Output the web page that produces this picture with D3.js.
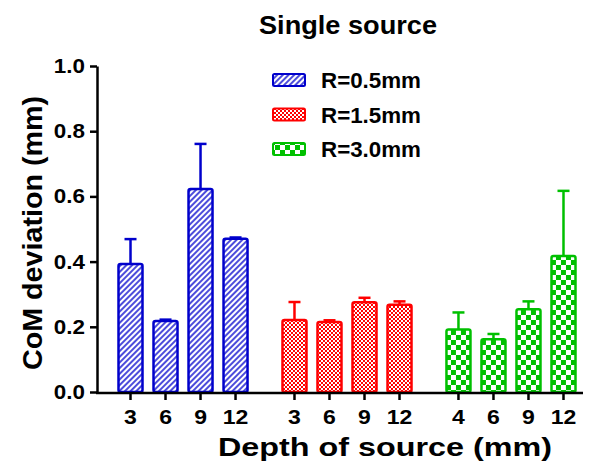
<!DOCTYPE html>
<html>
<head>
<meta charset="utf-8">
<script src="https://cdn.jsdelivr.net/npm/d3@7"></script>
<style>
  body { margin: 0; background: #fff; }
  text { font-family: "Liberation Sans", Arial, sans-serif; font-weight: bold; fill: #000; }
</style>
</head>
<body>
<svg width="595" height="464"></svg>
<script>
// data
var groups = ["R=0.5mm", "R=1.5mm", "R=3.0mm"];
var depthLabels = [["3", "6", "9", "12"], ["3", "6", "9", "12"], ["4", "6", "9", "12"]];
var means = [[0.393, 0.218, 0.623, 0.470], [0.221, 0.215, 0.275, 0.268], [0.192, 0.162, 0.254, 0.417]];
var errors = [[0.076, 0.004, 0.138, 0.004], [0.055, 0.005, 0.014, 0.010], [0.052, 0.016, 0.024, 0.200]];
var yTicks = [0, 0.2, 0.4, 0.6, 0.8, 1.0];

var colors = ["#0000cc", "#ff0000", "#00c000"];
var fills = ["url(#hatch)", "url(#fineCheck)", "url(#bigCheck)"];

var svg = d3.select("svg");

// patterns
var defs = svg.append("defs");
var hatch = defs.append("pattern")
  .attr("id", "hatch")
  .attr("patternUnits", "userSpaceOnUse")
  .attr("width", 4).attr("height", 4)
  .attr("patternTransform", "rotate(45)");
hatch.append("rect").attr("width", 4).attr("height", 4).attr("fill", "#fff");
hatch.append("line").attr("x1", 1).attr("x2", 1).attr("y1", 0).attr("y2", 4)
  .attr("stroke", colors[0]).attr("stroke-width", 1.4);

var fine = defs.append("pattern")
  .attr("id", "fineCheck")
  .attr("patternUnits", "userSpaceOnUse")
  .attr("width", 4).attr("height", 4);
fine.append("rect").attr("width", 4).attr("height", 4).attr("fill", colors[1]);
fine.append("rect").attr("width", 2).attr("height", 2).attr("fill", "#fff");
fine.append("rect").attr("x", 2).attr("y", 2).attr("width", 2).attr("height", 2).attr("fill", "#fff");

var big = defs.append("pattern")
  .attr("id", "bigCheck")
  .attr("patternUnits", "userSpaceOnUse")
  .attr("width", 10).attr("height", 10);
big.append("rect").attr("width", 10).attr("height", 10).attr("fill", "#fff");
big.append("rect").attr("width", 5).attr("height", 5).attr("fill", colors[2]);
big.append("rect").attr("x", 5).attr("y", 5).attr("width", 5).attr("height", 5).attr("fill", colors[2]);

// scales
var y = d3.scaleLinear().domain([0, 1]).range([392, 66]);
var x0 = d3.scaleBand().domain(d3.range(groups.length)).range([113, 581]).paddingInner(0.146);
var x1 = d3.scaleBand().domain(d3.range(4)).range([0, x0.bandwidth()])
  .paddingInner(11 / 35).paddingOuter(5.5 / 35);

function stretch(sel, k) {
  sel.each(function () {
    var w = this.getComputedTextLength();
    d3.select(this).attr("textLength", w * k).attr("lengthAdjust", "spacingAndGlyphs");
  });
}

// bars
groups.forEach(function (g, gi) {
  var gg = svg.append("g")
    .attr("class", "group")
    .attr("transform", "translate(" + x0(gi) + ",0)");

  var rows = means[gi].map(function (m, i) { return {i: i, m: m, e: errors[gi][i]}; });

  gg.selectAll("line.err-v").data(rows).enter().append("line")
    .attr("class", "err-v")
    .attr("x1", function (d) { return x1(d.i) + x1.bandwidth() / 2; })
    .attr("x2", function (d) { return x1(d.i) + x1.bandwidth() / 2; })
    .attr("y1", function (d) { return y(d.m); })
    .attr("y2", function (d) { return y(d.m + d.e); })
    .attr("stroke", colors[gi]).attr("stroke-width", 2.5);

  gg.selectAll("line.err-cap").data(rows).enter().append("line")
    .attr("class", "err-cap")
    .attr("x1", function (d) { return x1(d.i) + x1.bandwidth() / 2 - 6; })
    .attr("x2", function (d) { return x1(d.i) + x1.bandwidth() / 2 + 6; })
    .attr("y1", function (d) { return y(d.m + d.e); })
    .attr("y2", function (d) { return y(d.m + d.e); })
    .attr("stroke", colors[gi]).attr("stroke-width", 2.5);

  gg.selectAll("rect.bar").data(rows).enter().append("rect")
    .attr("class", "bar")
    .attr("x", function (d) { return x1(d.i); })
    .attr("y", function (d) { return y(d.m); })
    .attr("width", x1.bandwidth())
    .attr("height", function (d) { return y(0) - y(d.m); })
    .attr("rx", 2)
    .attr("fill", fills[gi])
    .attr("stroke", colors[gi]).attr("stroke-width", 2.5);

  // x ticks for this group
  var ax = gg.append("g")
    .attr("transform", "translate(0,393)")
    .call(d3.axisBottom(x1).tickSize(7).tickPadding(9)
      .tickFormat(function (d) { return depthLabels[gi][d]; }));
  ax.select(".domain").remove();
  ax.selectAll(".tick line").attr("stroke", "#000").attr("stroke-width", 2.5);
  ax.selectAll(".tick text").attr("font-size", 20).attr("font-family", null).attr("dy", "0.75em");
  stretch(ax.selectAll(".tick text"), 1.15);
});

// x baseline
svg.append("line")
  .attr("x1", 96).attr("x2", 583)
  .attr("y1", 393).attr("y2", 393)
  .attr("stroke", "#000").attr("stroke-width", 2.5);

// y axis
var yAxis = svg.append("g")
  .attr("transform", "translate(97,0)")
  .call(d3.axisLeft(y).tickValues(yTicks).tickSize(7).tickSizeOuter(0).tickPadding(5)
    .tickFormat(d3.format(".1f")));
yAxis.select(".domain").attr("stroke", "#000").attr("stroke-width", 2.5);
yAxis.selectAll(".tick line").attr("stroke", "#000").attr("stroke-width", 2.5);
yAxis.selectAll(".tick text").attr("font-size", 20).attr("font-family", null);
stretch(yAxis.selectAll(".tick text"), 1.12);

// title and axis titles
svg.append("text")
  .attr("x", 348).attr("y", 34)
  .attr("text-anchor", "middle")
  .attr("font-size", 25)
  .attr("textLength", 178).attr("lengthAdjust", "spacingAndGlyphs")
  .text("Single source");

svg.append("text")
  .attr("x", 385).attr("y", 456)
  .attr("text-anchor", "middle")
  .attr("font-size", 26)
  .attr("textLength", 334).attr("lengthAdjust", "spacingAndGlyphs")
  .text("Depth of source (mm)");

svg.append("text")
  .attr("transform", "translate(42,233) rotate(-90)")
  .attr("text-anchor", "middle")
  .attr("font-size", 27)
  .attr("textLength", 274).attr("lengthAdjust", "spacingAndGlyphs")
  .text("CoM deviation (mm)");

// legend
var legend = svg.append("g").attr("class", "legend");
var ly = d3.scalePoint().domain(d3.range(groups.length)).range([80, 149]);
groups.forEach(function (g, gi) {
  legend.append("rect")
    .attr("x", 273).attr("y", ly(gi) - 6)
    .attr("width", 32).attr("height", 12)
    .attr("rx", 1.5)
    .attr("fill", fills[gi])
    .attr("stroke", colors[gi]).attr("stroke-width", 2);
  legend.append("text")
    .attr("x", 321).attr("y", ly(gi) + 8)
    .attr("font-size", 22)
    .attr("textLength", 100).attr("lengthAdjust", "spacingAndGlyphs")
    .text(g);
});
</script>
</body>
</html>
